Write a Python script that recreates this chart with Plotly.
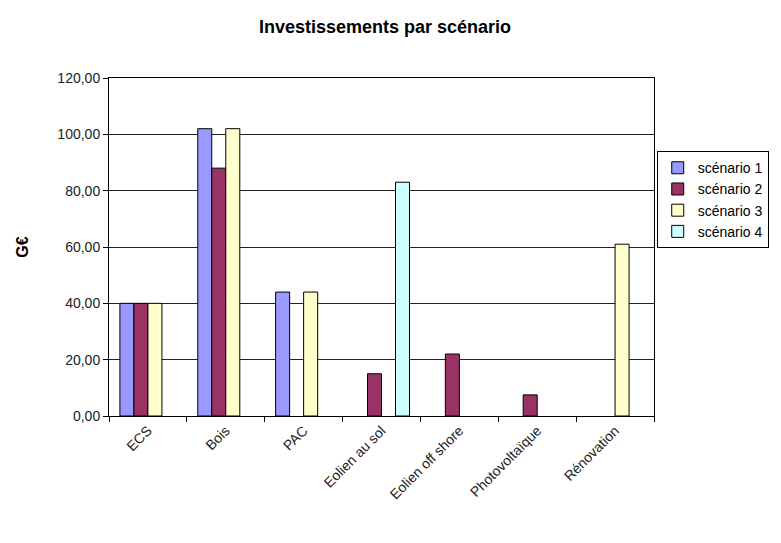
import plotly.graph_objects as go

categories = ["ECS", "Bois", "PAC", "Eolien au sol", "Eolien off shore", "Photovoltaïque", "Rénovation"]
scenario_names = ["scénario 1", "scénario 2", "scénario 3", "scénario 4"]
s1 = [40.0, 102.0, 44.0, None, None, None, None]
s2 = [40.0, 88.0, None, 15.0, 22.0, 7.5, None]
s3 = [40.0, 102.0, 44.0, None, None, None, 61.0]
s4 = [None, None, None, 83.0, None, None, None]
y_ticks = [0, 20, 40, 60, 80, 100, 120]

colors = ["#9999FF", "#993366", "#FFFFCC", "#CCFFFF"]
series = [s1, s2, s3, s4]

fig = go.Figure()
for name, vals, col in zip(scenario_names, series, colors):
    fig.add_trace(go.Bar(
        x=categories, y=vals, name=name,
        marker=dict(color=col, line=dict(color="#000000", width=1)),
    ))

fig.update_layout(
    width=781, height=543,
    barmode="group", bargap=0.28, bargroupgap=0,
    separators=", ",
    paper_bgcolor="white", plot_bgcolor="white",
    font=dict(family="Liberation Sans, Arial, sans-serif", color="black", size=14),
    title=dict(text="<b>Investissements par scénario</b>", x=0.493, xanchor="center",
               y=0.95, yanchor="middle", font=dict(size=18)),
    margin=dict(l=109, r=127, t=78, b=127),
    legend=dict(x=1.005, xanchor="left", y=0.64, yanchor="middle",
                bordercolor="black", borderwidth=1, font=dict(size=14),
                itemwidth=30, tracegroupgap=0),
    xaxis=dict(tickangle=-45, tickson="boundaries", ticks="outside", ticklen=5,
               tickcolor="black", showline=True, linecolor="black", linewidth=1,
               mirror=True, tickfont=dict(size=14, color="#222")),
    yaxis=dict(range=[0, 120], tickvals=y_ticks, tickformat=".2f",
               ticks="outside", ticklen=5, tickcolor="black",
               showgrid=True, gridcolor="#222", gridwidth=1,
               showline=True, linecolor="black", linewidth=1, mirror=True,
               title=dict(text="<b>G€</b>", font=dict(size=16), standoff=24),
               tickfont=dict(size=14, color="#222")),
)

fig.write_html("out.html")
